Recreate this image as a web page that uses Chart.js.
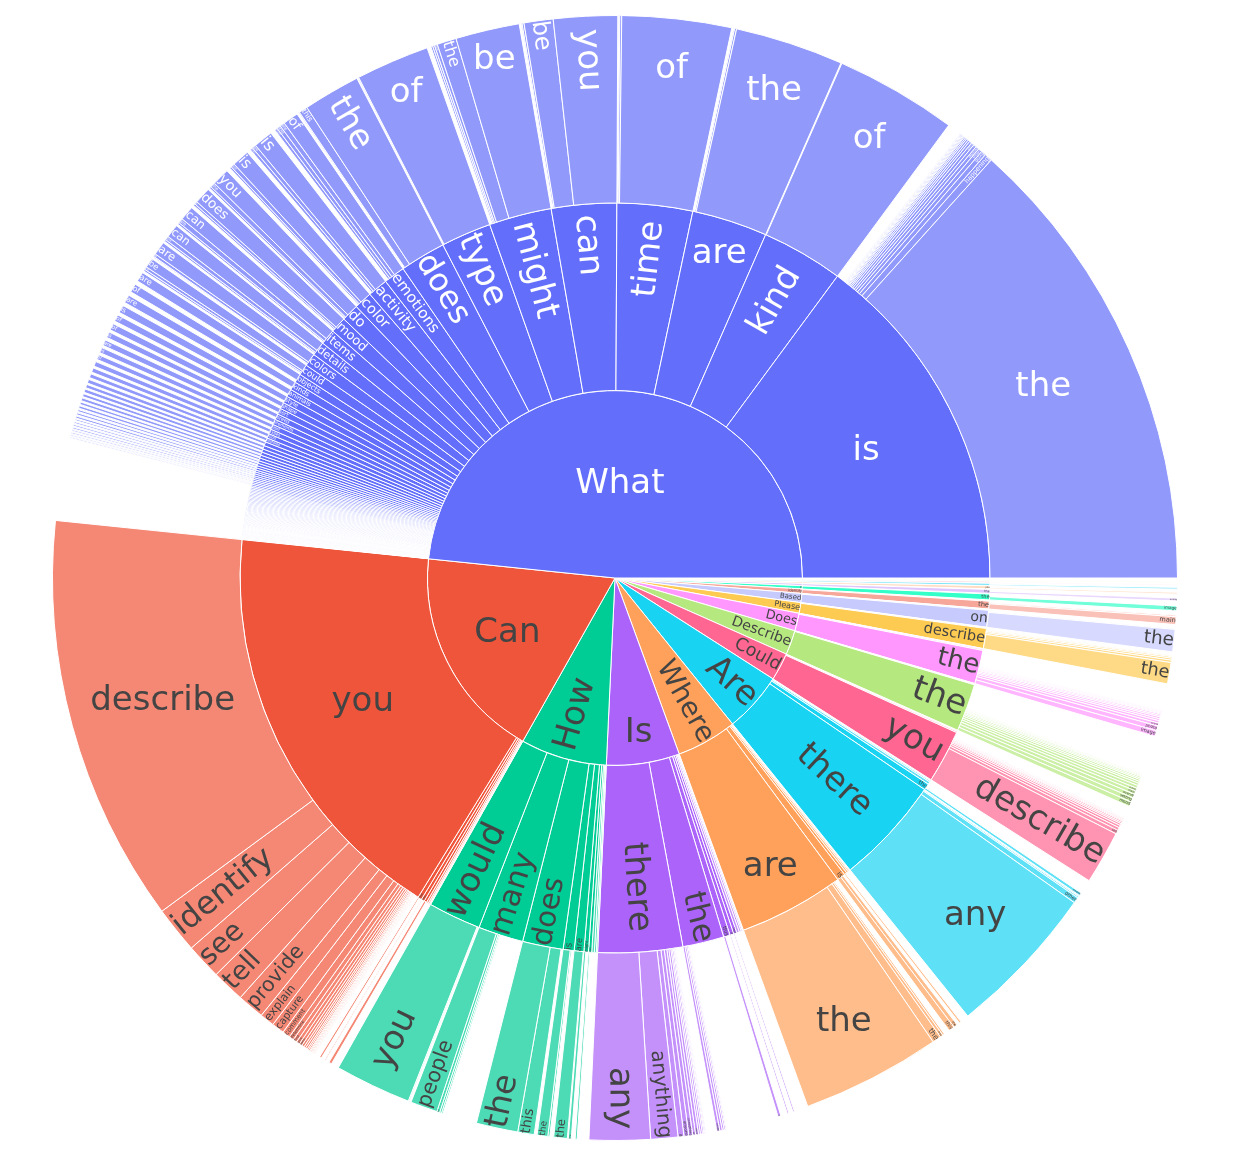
<!DOCTYPE html>
<html>
<head>
<meta charset="utf-8">
<title>First words sunburst</title>
<script src="https://cdn.jsdelivr.net/npm/chart.js@4.4.1/dist/chart.umd.min.js"></script>
<style>
  html, body { margin: 0; padding: 0; background: #fff; }
  #wrap { width: 1239px; height: 1161px; }
</style>
</head>
<body>
<div id="wrap"><canvas id="sunburst"></canvas></div>
<script>
// ---- data: first word of each question, then second and third word ----
const firstWords = ['What', 'Can', 'How', 'Is', 'Where', 'Are', 'Could', 'Describe', 'Does', 'Please',
  'Based', 'Identify', 'In', 'Explain', 'Imagine', 'Provide', 'Tell', 'Which', 'Who', 'Why'];
const firstCounts = [174.1, 66.4, 26.8, 22.7, 18.8, 18.6, 8.6, 7.6, 5.5, 3.3,
  2.8, 1.4, 1.0, 0.7, 0.5, 0.4, 0.3, 0.2, 0.15, 0.1];

// second words, one group per first word (same order as firstWords)
const secondWords = [
  ['is', 'kind', 'are', 'time', 'can', 'might', 'type', 'does', 'emotions', 'activity', 'color', 'do', 'mood', 'items', 'details', 'colors', 'could'],
  ['you', 'the', 'this', 'someone', 'we', 'it', 'I', 'anyone'],
  ['would', 'many', 'does', 'is', 'are', 'might', 'can', 'do', 'old', 'long'],
  ['there', 'the', 'this', 'it', 'that', 'anyone', 'a', 'he', 'she'],
  ['are', 'is', 'was', 'do', 'can', 'might'],
  ['there', 'the', 'any', 'these', 'they'],
  ['you', 'this', 'it'],
  ['the', 'this', 'what'],
  ['the', 'this', 'it'],
  ['describe', 'explain', 'tell'],
  ['on', 'upon', 'solely'],
  ['the', 'any'],
  ['the'], ['the'], ['you'], ['a'], ['me'], ['of'], ['is'], ['is']
];
const secondCounts = [
  [53.6, 12.7, 11.7, 11.7, 10.1, 9.7, 7.8, 7.1, 3.3, 3.1, 2.8, 2.7, 2.5, 2.4, 2.2, 2.0, 1.7],
  [64.2, 0.6, 0.5, 0.4, 0.3, 0.2, 0.1, 0.1],
  [8.2, 7.0, 6.3, 1.7, 1.5, 0.7, 0.5, 0.4, 0.3, 0.2],
  [13.1, 6.4, 1.0, 0.6, 0.5, 0.4, 0.3, 0.2, 0.1],
  [16.4, 1.3, 0.4, 0.3, 0.2, 0.1],
  [16.8, 1.0, 0.4, 0.2, 0.1],
  [8.2, 0.2, 0.1],
  [7.4, 0.1, 0.1],
  [5.2, 0.2, 0.1],
  [3.1, 0.1, 0.1],
  [2.6, 0.1, 0.1],
  [1.2, 0.1],
  [0.9], [0.6], [0.45], [0.35], [0.25], [0.18], [0.12], [0.08]
];

// the long tail of rare second words after "What"
const whatTailWords = ['objects', 'kinds', 'animals', 'style', 'shape', 'sort', 'breed', 'elements', 'text', 'types', 'food', 'features'];
const whatTailCounts = [
  1.4, 1.3, 1.2, 1.1, 1.0, 0.95, 0.9, 0.85, 0.8, 0.75,
  0.7, 0.65, 0.6, 0.55, 0.5, 0.5, 0.45, 0.45, 0.4, 0.4,
  0.35, 0.35, 0.3, 0.3, 0.3,
  0.28, 0.27, 0.26, 0.26, 0.25, 0.25, 0.24, 0.24, 0.23, 0.22,
  0.22, 0.21, 0.21, 0.2, 0.2, 0.2, 0.19, 0.19, 0.18, 0.18,
  0.17, 0.17, 0.16, 0.16, 0.15, 0.15, 0.15, 0.14, 0.14, 0.14, 0.13, 0.13,
  0.12, 0.12, 0.11, 0.11, 0.11, 0.1, 0.1, 0.1, 0.1, 0.1, 0.09, 0.09, 0.09, 0.09, 0.08,
  0.08, 0.08, 0.08, 0.08, 0.075, 0.075, 0.075, 0.075, 0.07, 0.07,
  0.07, 0.07, 0.07, 0.07, 0.065, 0.065, 0.065, 0.06, 0.06, 0.06,
  0.055, 0.055, 0.055, 0.05, 0.05, 0.05, 0.05, 0.05, 0.05, 0.05, 0.05, 0.045, 0.045, 0.04
];
// one third word under each of the first tail entries
const whatTailChildWords = ['are', 'of', 'are', 'is', 'of', 'of', 'is', 'are', 'is', 'of'];
const whatTailChildCounts = [
  1.0, 0.9, 0.85, 0.8, 0.7, 0.7, 0.6, 0.6, 0.55, 0.5,
  0.5, 0.45, 0.4, 0.4, 0.35, 0.35, 0.3, 0.3, 0.25, 0.25,
  0.2, 0.2, 0.2, 0.15, 0.15, 0.15, 0.15, 0.12, 0.12, 0.1, 0.1
];

// third words, one group per "first second" pair
const thirdParents = [
  'What is', 'What kind', 'What are', 'What time', 'What can', 'What might', 'What type', 'What does',
  'What emotions', 'What activity', 'What color', 'What do', 'What mood', 'What items', 'What details', 'What colors', 'What could',
  'Can you', 'Can the', 'Can this', 'Can someone',
  'How would', 'How many', 'How does', 'How is', 'How are', 'How might', 'How can',
  'Is there', 'Is the', 'Is this', 'Is it', 'Is that',
  'Where are', 'Where is', 'Where was',
  'Are there', 'Are the',
  'Could you', 'Describe the', 'Does the', 'Please describe', 'Based on',
  'Identify the', 'In the', 'Explain the', 'Imagine you', 'Provide a', 'Tell me', 'Which of'
];
const thirdWords = [
  ['the', 'happening', 'going', 'shown', 'depicted', 'in', 'visible', 'on', 'located', 'written', 'special', 'unique', 'this', 'that', 'it', 'a', 'being', 'displayed', 'present'],
  ['of'], ['the', 'some', 'these'], ['of', 'is', 'does'], ['you', 'be', 'we', 'I'],
  ['be', 'the', 'have', 'this', 'they'], ['of', 'is'], ['the', 'this', 'it'],
  ['of', 'are', 'does', 'might'], ['is', 'are', 'does'], ['is', 'are', 'does'], ['you', 'the', 'they'],
  ['does', 'is', 'or'], ['can', 'are', 'might'], ['can', 'are', 'do'], ['are', 'do', 'can'], ['be', 'the', 'have'],
  ['describe', 'identify', 'see', 'tell', 'provide', 'explain', 'capture', 'comment', 'determine', 'find', 'give', 'guess',
    'list', 'spot', 'count', 'analyze', 'infer', 'read', 'name', 'help', 'suggest', 'share', 'interpret', 'detect', 'point'],
  ['image'], ['be'], ['describe'],
  ['you', 'the'], ['people', 'of', 'different', 'items'], ['the', 'this'], ['the', 'this'], ['the'], ['the'], ['I'],
  ['any', 'anything', 'a', 'anyone', 'something', 'an', 'more', 'evidence', 'someone', 'enough', 'another', 'some'],
  ['image', 'person', 'man', 'woman', 'scene'], ['a'], ['possible'], ['a'],
  ['the', 'the', 'they', 'these'], ['this', 'the'], ['the'],
  ['any', 'other', 'some', 'people'], ['people'],
  ['describe', 'tell', 'provide', 'explain', 'identify', 'give', 'share', 'elaborate', 'list', 'help', 'offer'],
  ['mood', 'setting', 'overall', 'main', 'scene', 'atmosphere', 'image', 'environment', 'location', 'people', 'colors', 'style', 'objects', 'background'],
  ['image', 'photo', 'scene', 'person', 'man', 'picture', 'woman', 'room', 'setting', 'food', 'animal', 'dog'],
  ['the', 'what', 'this', 'any', 'how'], ['the', 'this'],
  ['main', 'objects'], ['image'], ['scene'], ['are'], ['detailed'], ['about'], ['the']
];
const thirdCounts = [
  [48.0, 0.8, 0.5, 0.4, 0.35, 0.3, 0.3, 0.25, 0.2, 0.2, 0.15, 0.15, 0.1, 0.1, 0.1, 0.08, 0.08, 0.06, 0.05],
  [12.6], [11.2, 0.2, 0.1], [11.3, 0.2, 0.1], [6.6, 3.0, 0.2, 0.1],
  [6.6, 2.0, 0.3, 0.2, 0.2], [7.6, 0.1], [5.9, 0.9, 0.1],
  [1.6, 0.5, 0.4, 0.3], [2.0, 0.4, 0.3], [1.8, 0.4, 0.2], [1.8, 0.5, 0.2],
  [1.7, 0.3, 0.2], [1.5, 0.5, 0.2], [1.4, 0.4, 0.2], [1.4, 0.3, 0.1], [1.0, 0.3, 0.2],
  [42.2, 4.8, 3.7, 3.4, 2.8, 1.5, 1.3, 0.8, 0.5, 0.4, 0.35, 0.3,
    0.25, 0.2, 0.2, 0.15, 0.15, 0.1, 0.1, 0.1, 0.08, 0.08, 0.06, 0.05, 0.05],
  [0.2], [0.1], [0.3],
  [7.9, 0.1], [2.8, 0.3, 0.2, 0.15], [4.3, 1.7], [1.1, 0.2], [1.4], [0.3], [0.2],
  [6.3, 2.8, 0.6, 0.5, 0.4, 0.3, 0.3, 0.2, 0.2, 0.15, 0.1, 0.1],
  [0.3, 0.25, 0.2, 0.15, 0.1], [0.3], [0.15], [0.15],
  [14.4, 0.9, 0.3, 0.2], [0.6, 0.4], [0.2],
  [15.9, 0.6, 0.15, 0.1], [0.3],
  [5.5, 0.4, 0.3, 0.25, 0.2, 0.15, 0.15, 0.1, 0.1, 0.08, 0.06],
  [0.5, 0.45, 0.4, 0.35, 0.3, 0.3, 0.25, 0.2, 0.2, 0.15, 0.15, 0.1, 0.1, 0.08],
  [0.6, 0.5, 0.3, 0.25, 0.2, 0.2, 0.15, 0.15, 0.1, 0.1, 0.1, 0.08],
  [2.2, 0.25, 0.2, 0.15, 0.1], [2.3, 0.1],
  [0.8, 0.15], [0.5], [0.3], [0.2], [0.2], [0.1], [0.1]
];

// ---- colours ----
const palette = ['#636efa', '#EF553B', '#00cc96', '#ab63fa', '#FFA15A', '#19d3f3', '#FF6692', '#B6E880', '#FF97FF', '#FECB52'];

function hexToRgb(hex) {
  const n = parseInt(hex.slice(1), 16);
  return [(n >> 16) & 255, (n >> 8) & 255, n & 255];
}

// raise the HSL lightness, the way the colour list gets extended past ten
function lighten(hex, amount) {
  const [r, g, b] = hexToRgb(hex).map(v => v / 255);
  const max = Math.max(r, g, b), min = Math.min(r, g, b);
  let h = 0, s = 0, l = (max + min) / 2;
  if (max !== min) {
    const d = max - min;
    s = l > 0.5 ? d / (2 - max - min) : d / (max + min);
    if (max === r) h = (g - b) / d + (g < b ? 6 : 0);
    else if (max === g) h = (b - r) / d + 2;
    else h = (r - g) / d + 4;
    h /= 6;
  }
  l = Math.min(1, l + amount);
  const hue2rgb = (p, q, t) => {
    if (t < 0) t += 1;
    if (t > 1) t -= 1;
    if (t < 1 / 6) return p + (q - p) * 6 * t;
    if (t < 1 / 2) return q;
    if (t < 2 / 3) return p + (q - p) * (2 / 3 - t) * 6;
    return p;
  };
  let R, G, B;
  if (s === 0) { R = G = B = l; }
  else {
    const q = l < 0.5 ? l * (1 + s) : l + s - l * s;
    const p = 2 * l - q;
    R = hue2rgb(p, q, h + 1 / 3); G = hue2rgb(p, q, h); B = hue2rgb(p, q, h - 1 / 3);
  }
  return '#' + [R, G, B].map(v => Math.round(v * 255).toString(16).padStart(2, '0')).join('');
}

const sliceColors = palette.concat(palette.map(c => lighten(c, 0.2)));

function isDark(hex) {
  const [r, g, b] = hexToRgb(hex);
  return (r * 299 + g * 587 + b * 114) / 1000 < 128;
}

function withAlpha(hex, a) {
  const [r, g, b] = hexToRgb(hex);
  return 'rgba(' + r + ',' + g + ',' + b + ',' + a + ')';
}

// ---- build the three rings (counter-clockwise order, gaps where children don't fill a parent) ----
function buildRings() {
  const ring1 = [], ring2 = [], ring3 = [];
  const gap = v => ({ value: v, gap: true });

  firstWords.forEach((w1, i) => {
    const color = sliceColors[i];
    const words2 = secondWords[i].slice();
    const counts2 = secondCounts[i].slice();
    const tailStart = words2.length;
    if (w1 === 'What') {
      whatTailCounts.forEach((v, t) => { words2.push(whatTailWords[t] || ''); counts2.push(v); });
    }
    ring1.push({ text: w1, value: firstCounts[i], color: color, leaf: false });

    let used2 = 0;
    words2.forEach((w2, j) => {
      let words3 = [], counts3 = [];
      if (j >= tailStart) {
        const t = j - tailStart;
        if (t < whatTailChildCounts.length) {
          words3 = [whatTailChildWords[t] || ''];
          counts3 = [whatTailChildCounts[t]];
        }
      } else {
        const g = thirdParents.indexOf(w1 + ' ' + w2);
        if (g >= 0) { words3 = thirdWords[g]; counts3 = thirdCounts[g]; }
      }
      ring2.push({ text: w2, value: counts2[j], color: color, leaf: counts3.length === 0 });
      let used3 = 0;
      counts3.forEach((v, k) => {
        ring3.push({ text: words3[k], value: v, color: color, leaf: true });
        used3 += v;
      });
      if (counts2[j] - used3 > 1e-6) ring3.push(gap(counts2[j] - used3));
      used2 += counts2[j];
    });
    const rest = firstCounts[i] - used2;
    if (rest > 1e-6) { ring2.push(gap(rest)); ring3.push(gap(rest)); }
  });
  return [ring1, ring2, ring3];
}

// Chart.js goes clockwise, so each ring is reversed and started at 3 o'clock
function toDataset(ring) {
  const segs = ring.slice().reverse();
  return {
    data: segs.map(s => s.value),
    backgroundColor: segs.map(s => s.gap ? 'rgba(0,0,0,0)' : (s.leaf ? withAlpha(s.color, 0.7) : s.color)),
    borderColor: '#ffffff',
    borderWidth: segs.map(s => s.gap ? 0 : 1),
    hoverBorderWidth: 0,
    hoverOffset: 0,
    texts: segs.map(s => s.gap ? '' : s.text),
    textColors: segs.map(s => s.gap ? '#444' : (isDark(s.color) ? '#ffffff' : '#444444'))
  };
}

// ---- labels inside the slices: horizontal if it fits, otherwise radial ----
const MAX_FONT = 34;
const FONT = '"DejaVu Sans", Verdana, sans-serif';
const LINE = 1.16;

function fitLabel(ctx, text, p) {
  ctx.font = '100px ' + FONT;
  const w1 = ctx.measureText(text).width / 100;
  const r0 = p.innerRadius, r1 = p.outerRadius;
  const mid = (p.startAngle + p.endAngle) / 2;
  const half = (p.endAngle - p.startAngle) / 2;
  if (half <= 0) return null;

  // horizontal: the text box has to sit in the slice's inscribed circle
  const sinH = half < Math.PI / 2 ? Math.sin(half) : 1;
  const ringHalf = (r1 - r0) / 2;
  let rho, rcH;
  if ((r0 + r1) / 2 * sinH >= ringHalf) { rho = ringHalf; rcH = (r0 + r1) / 2; }
  else { rho = r1 * sinH / (1 + sinH); rcH = r1 - rho; }
  const fH = 2 * rho / Math.sqrt(w1 * w1 + LINE * LINE);
  if (fH >= MAX_FONT) return { size: MAX_FONT, r: rcH, mid: mid, rot: 0 };

  // radial: largest box along the bisector
  const tanH = half < Math.PI / 2 ? Math.tan(half) : Infinity;
  const place = f => {
    const H = f * LINE / 2, L = f * w1 / 2;
    const xin = Math.max(r0, H / tanH);
    const ok = (xin + 2 * L) * (xin + 2 * L) + H * H <= r1 * r1;
    return { ok: ok, rc: xin + L };
  };
  let lo = 0, hi = 400;
  for (let it = 0; it < 40; it++) {
    const m = (lo + hi) / 2;
    if (place(m).ok) lo = m; else hi = m;
  }
  const fR = lo;
  if (fR > fH) {
    let rot = mid;
    if (Math.cos(mid) < -1e-9) rot = mid + Math.PI;
    return { size: Math.min(fR, MAX_FONT), r: place(fR).rc, mid: mid, rot: rot };
  }
  return { size: fH, r: rcH, mid: mid, rot: 0 };
}

const sliceLabels = {
  id: 'sliceLabels',
  afterDatasetsDraw(chart) {
    const ctx = chart.ctx;
    ctx.save();
    ctx.textAlign = 'center';
    ctx.textBaseline = 'middle';
    chart.data.datasets.forEach((ds, d) => {
      const meta = chart.getDatasetMeta(d);
      meta.data.forEach((arc, i) => {
        const text = ds.texts[i];
        if (!text) return;
        const p = arc.getProps(['x', 'y', 'startAngle', 'endAngle', 'innerRadius', 'outerRadius'], true);
        const fit = fitLabel(ctx, text, p);
        if (!fit || fit.size < 2.5) return;
        ctx.save();
        ctx.translate(p.x + fit.r * Math.cos(fit.mid), p.y + fit.r * Math.sin(fit.mid));
        ctx.rotate(fit.rot);
        ctx.font = fit.size.toFixed(2) + 'px ' + FONT;
        ctx.fillStyle = ds.textColors[i];
        ctx.fillText(text, 0, 0);
        ctx.restore();
      });
    });
    ctx.restore();
  }
};

const rings = buildRings();

new Chart(document.getElementById('sunburst'), {
  type: 'pie',
  data: {
    labels: [],
    // first dataset is the outer ring
    datasets: [toDataset(rings[2]), toDataset(rings[1]), toDataset(rings[0])]
  },
  options: {
    responsive: true,
    maintainAspectRatio: false,
    animation: false,
    events: [],
    rotation: 90,
    circumference: 360,
    layout: { padding: { left: 52, right: 61, top: 15, bottom: 20 } },
    plugins: {
      legend: { display: false },
      tooltip: { enabled: false }
    }
  },
  plugins: [sliceLabels]
});
</script>
</body>
</html>
